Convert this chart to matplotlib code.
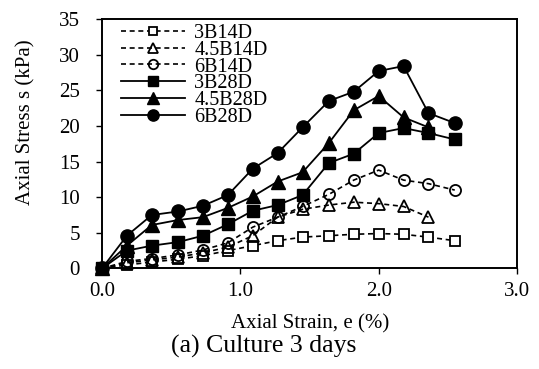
import matplotlib
matplotlib.use("Agg")
import matplotlib.pyplot as plt

plt.rcParams['font.family'] = ['Liberation Serif', 'DejaVu Serif']

strain = [0.0, 0.18, 0.36, 0.55, 0.73, 0.91, 1.09, 1.27, 1.45, 1.64, 1.82, 2.0, 2.18, 2.36, 2.55]

s_3B14D = [0, 0.5, 0.9, 1.3, 1.8, 2.5, 3.2, 3.9, 4.4, 4.6, 4.8, 4.9, 4.8, 4.4, 3.9]
s_45B14D = [0, 0.8, 1.2, 1.6, 2.2, 3.0, 4.6, 7.2, 8.3, 8.9, 9.3, 9.1, 8.7, 7.2]
s_6B14D = [0, 1.0, 1.4, 1.9, 2.6, 3.6, 5.8, 7.2, 8.7, 10.4, 12.4, 13.8, 12.4, 11.9, 11.0]
s_3B28D = [0, 2.5, 3.2, 3.7, 4.6, 6.2, 8.1, 8.9, 10.3, 14.8, 16.1, 19.0, 19.7, 19.0, 18.1]
s_45B28D = [0, 3.2, 6.1, 6.8, 7.2, 8.5, 10.1, 12.2, 13.5, 17.6, 22.2, 24.2, 21.2, 19.8]
s_6B28D = [0, 4.6, 7.5, 8.0, 8.8, 10.3, 14.0, 16.2, 19.8, 23.5, 24.8, 27.7, 28.4, 21.8, 20.4]

fig = plt.figure(figsize=(5.39, 3.69), dpi=100)
ax = fig.add_axes([0.1892, 0.2724, 0.77, 0.6761])

dash = (0, (3.0, 2.2))
ax.plot(strain, s_3B14D, color='black', lw=1.2, ls=dash, marker='s', ms=7,
        mfc='white', mec='black', mew=1.3, label='3B14D', clip_on=False)
ax.plot(strain[:len(s_45B14D)], s_45B14D, color='black', lw=1.2, ls=dash, marker='^', ms=8,
        mfc='none', mec='black', mew=1.3, label='4.5B14D', clip_on=False)
ax.plot(strain, s_6B14D, color='black', lw=1.2, ls=dash, marker='o', ms=8,
        mfc='none', mec='black', mew=1.3, label='6B14D', clip_on=False)
ax.plot(strain, s_3B28D, color='black', lw=1.3, marker='s', ms=8.5,
        mfc='black', mec='black', label='3B28D', clip_on=False)
ax.plot(strain[:len(s_45B28D)], s_45B28D, color='black', lw=1.3, marker='^', ms=9.5,
        mfc='black', mec='black', label='4.5B28D', clip_on=False)
ax.plot(strain, s_6B28D, color='black', lw=1.3, marker='o', ms=9.5,
        mfc='black', mec='black', label='6B28D', clip_on=False)

ax.set_xlim(0, 3.0)
ax.set_ylim(0, 35)
ax.set_xticks([0, 1, 2, 3])
ax.set_xticklabels(['0.0', '1.0', '2.0', '3.0'])
ax.set_yticks(range(0, 36, 5))
ax.tick_params(axis='both', direction='out', length=4, width=1, labelsize=15)
ax.tick_params(axis='y', pad=12)
ax.tick_params(axis='x', pad=6)
for sp in ax.spines.values():
    sp.set_linewidth(1.4)

fig.text(310 / 539, 1 - 324 / 369, 'Axial Strain, e (%)', ha='center', va='center', fontsize=15)
fig.text(26 / 539, 1 - 122 / 369, 'Axial Stress s (kPa)', rotation=90,
         ha='center', va='center', fontsize=15)
fig.text(264 / 539, 1 - 346 / 369, '(a) Culture 3 days', ha='center', va='center', fontsize=18.5)

leg = ax.legend(loc='upper left', frameon=False, fontsize=14.5, handlelength=3.2,
                labelspacing=-0.12, handletextpad=0.45, borderaxespad=0.0,
                bbox_to_anchor=(0.026, 1.012), markerscale=0.85)

fig.savefig('out.png', dpi=100)
